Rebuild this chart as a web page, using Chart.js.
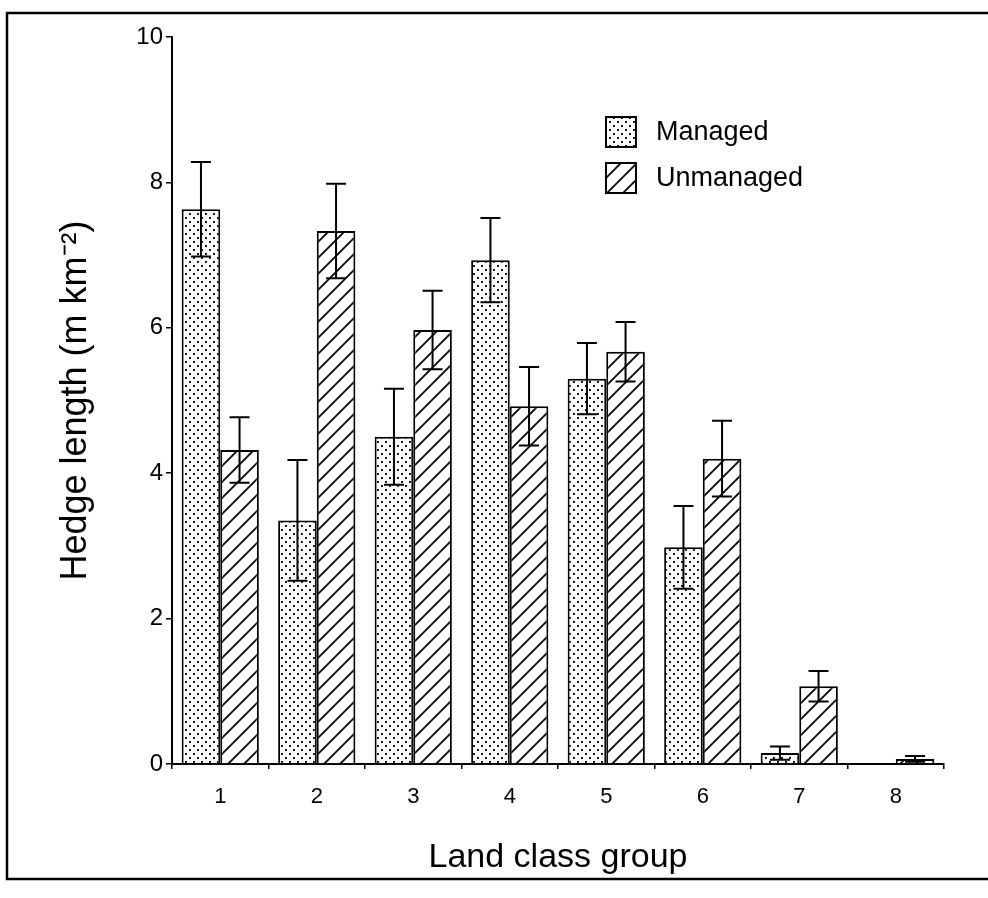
<!DOCTYPE html>
<html>
<head>
<meta charset="utf-8">
<title>Hedge length by land class group</title>
<script src="https://cdn.jsdelivr.net/npm/chart.js@4.4.1/dist/chart.umd.min.js"></script>
<style>
  html, body { margin:0; padding:0; background:#fff; }
  #wrap { width:988px; height:898px; position:relative; }
</style>
</head>
<body>
<div id="wrap"><canvas id="chart" width="988" height="898"></canvas></div>
<script>
// ── Data ───────────────────────────────────────
const landClasses  = ['1','2','3','4','5','6','7','8'];
const managed      = [7.63, 3.35, 4.50, 6.93, 5.30, 2.98, 0.15, 0];
const managedErr   = [0.65, 0.83, 0.66, 0.58, 0.49, 0.57, 0.09, 0];
const unmanaged    = [4.32, 7.33, 5.97, 4.92, 5.67, 4.20, 1.07, 0.07];
const unmanagedErr = [0.45, 0.65, 0.54, 0.54, 0.41, 0.52, 0.21, 0.04];
const yTicks       = [0, 2, 4, 6, 8, 10];

const FONT = '"Liberation Sans", Arial, Helvetica, sans-serif';
Chart.defaults.font.family = FONT;
Chart.defaults.color = '#000';

// ── Fill patterns ──────────────────────────────
function stipple() {
  const c = document.createElement('canvas');
  c.width = 8; c.height = 8;
  const g = c.getContext('2d');
  g.fillStyle = '#fff'; g.fillRect(0, 0, 8, 8);
  g.fillStyle = '#000';
  g.fillRect(1, 1, 1.9, 1.9);
  g.fillRect(5, 5, 1.9, 1.9);
  return g.createPattern(c, 'repeat');
}
function hatch() {
  const s = 16;
  const c = document.createElement('canvas');
  c.width = s; c.height = s;
  const g = c.getContext('2d');
  g.fillStyle = '#fff'; g.fillRect(0, 0, s, s);
  g.strokeStyle = '#000'; g.lineWidth = 1.8;
  g.beginPath();
  g.moveTo(-2, s + 2); g.lineTo(s + 2, -2);
  g.moveTo(-2, 2); g.lineTo(2, -2);
  g.moveTo(s - 2, s + 2); g.lineTo(s + 2, s - 2);
  g.stroke();
  return g.createPattern(c, 'repeat');
}
const dotFill = stipple();
const lineFill = hatch();
const errors = [managedErr, unmanagedErr];

// ── Plugins ────────────────────────────────────
const frame = {
  id: 'frame',
  beforeDraw(chart) {
    const ctx = chart.ctx;
    ctx.save();
    ctx.strokeStyle = '#000'; ctx.lineWidth = 2.5;
    ctx.beginPath();
    ctx.moveTo(988, 13); ctx.lineTo(7, 13); ctx.lineTo(7, 879); ctx.lineTo(988, 879);
    ctx.stroke();
    ctx.restore();
  }
};

const errorBars = {
  id: 'errorBars',
  afterDatasetsDraw(chart) {
    const ctx = chart.ctx, y = chart.scales.y;
    ctx.save();
    ctx.strokeStyle = '#000'; ctx.lineWidth = 2;
    chart.data.datasets.forEach((ds, di) => {
      chart.getDatasetMeta(di).data.forEach((bar, i) => {
        const e = errors[di][i];
        if (!e) return;
        const top = y.getPixelForValue(ds.data[i] + e);
        const bot = y.getPixelForValue(Math.max(ds.data[i] - e, 0));
        ctx.beginPath();
        ctx.moveTo(bar.x, top); ctx.lineTo(bar.x, bot);
        ctx.moveTo(bar.x - 10, top); ctx.lineTo(bar.x + 10, top);
        ctx.moveTo(bar.x - 10, bot); ctx.lineTo(bar.x + 10, bot);
        ctx.stroke();
      });
    });
    ctx.restore();
  }
};

const boxLegend = {
  id: 'boxLegend',
  afterDraw(chart) {
    const ctx = chart.ctx;
    ctx.save();
    ctx.font = '27px ' + FONT;
    ctx.textBaseline = 'middle';
    chart.data.datasets.forEach((ds, i) => {
      const bx = 606, by = 117 + i * 46;
      ctx.fillStyle = ds.backgroundColor;
      ctx.fillRect(bx, by, 30, 30);
      ctx.strokeStyle = '#000'; ctx.lineWidth = 2;
      ctx.strokeRect(bx, by, 30, 30);
      ctx.fillStyle = '#000';
      ctx.fillText(ds.label, 656, by + 16);
    });
    ctx.restore();
  }
};

// ── Chart ──────────────────────────────────────
new Chart(document.getElementById('chart'), {
  type: 'bar',
  data: {
    labels: landClasses,
    datasets: [
      { label: 'Managed', data: managed, backgroundColor: dotFill,
        borderColor: '#000', borderWidth: 2 },
      { label: 'Unmanaged', data: unmanaged, backgroundColor: lineFill,
        borderColor: '#000', borderWidth: 2 }
    ]
  },
  options: {
    responsive: false,
    animation: false,
    categoryPercentage: 0.8,
    barPercentage: 1.0,
    layout: { padding: { left: 0, right: 44, top: 37, bottom: 0 } },
    plugins: { legend: { display: false }, tooltip: { enabled: false } },
    scales: {
      x: {
        afterFit: s => { s.height = 134; },
        border: { color: '#000', width: 2 },
        grid: { drawOnChartArea: false, color: '#000', lineWidth: 1.5, tickLength: 5, offset: true },
        ticks: { font: { size: 22 }, padding: 15, color: '#000' },
        title: { display: true, text: 'Land class group', font: { size: 34 },
                 color: '#000', padding: { top: 0, bottom: 20 } }
      },
      y: {
        min: 0, max: 10,
        afterFit: s => { s.width = 172; },
        afterBuildTicks: s => { s.ticks = yTicks.map(v => ({ value: v })); },
        border: { color: '#000', width: 2 },
        grid: { drawOnChartArea: false, color: '#000', lineWidth: 1.5, tickLength: 6 },
        ticks: { font: { size: 24 }, padding: 3, color: '#000' },
        title: { display: true, text: 'Hedge length (m km⁻²)', font: { size: 36 },
                 color: '#000', padding: { top: 54, bottom: 0 } }
      }
    }
  },
  plugins: [frame, errorBars, boxLegend]
});
</script>
</body>
</html>
